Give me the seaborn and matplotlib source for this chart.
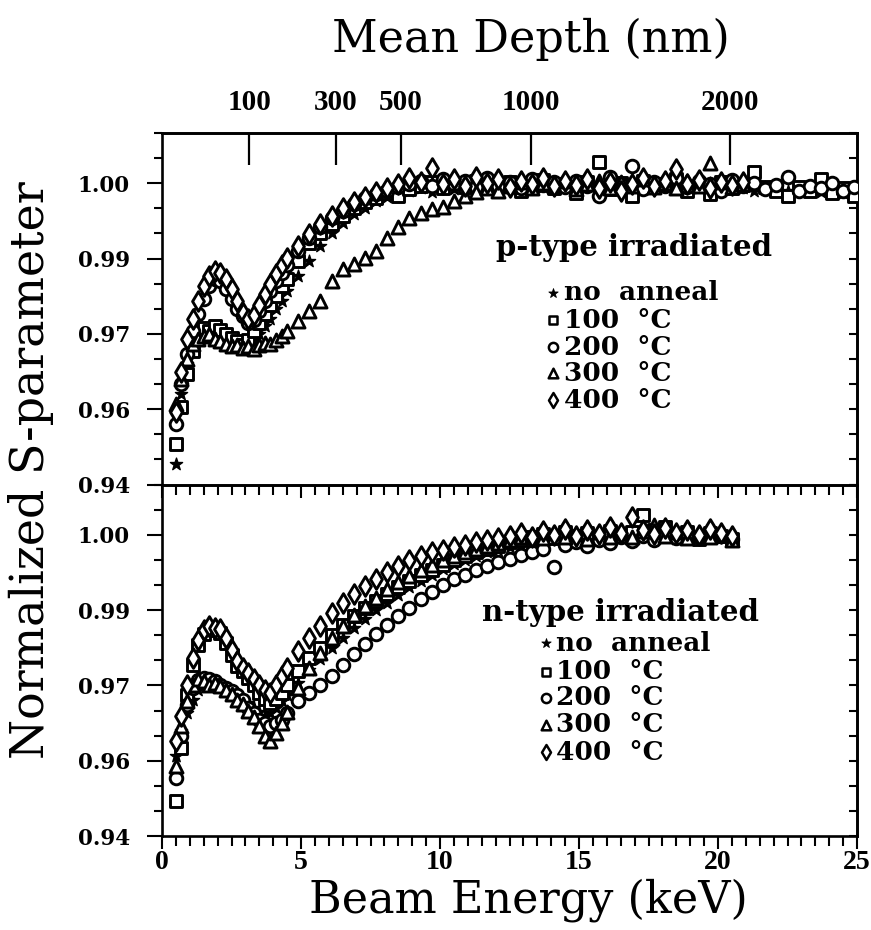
import numpy as np
import pandas as pd
import matplotlib
matplotlib.use("Agg")
import matplotlib.pyplot as plt
from matplotlib.ticker import MultipleLocator, NullLocator
import seaborn as sns

# ---------------------------------------------------------------- data
# Positron beam energies (keV)
energy_p = [0.5, 0.7, 0.9, 1.1, 1.3, 1.5, 1.7, 1.9, 2.1, 2.3, 2.5, 2.7, 2.9, 3.1, 3.3, 3.5, 3.7, 3.9, 4.1, 4.3, 4.5,
            4.9, 5.3, 5.7, 6.1, 6.5, 6.9, 7.3, 7.7, 8.1, 8.5,
            8.9, 9.3, 9.7, 10.1, 10.5, 10.9, 11.3, 11.7, 12.1, 12.5,
            12.9, 13.3, 13.7, 14.1, 14.5, 14.9, 15.3, 15.7, 16.1, 16.5,
            16.9, 17.3, 17.7, 18.1, 18.5, 18.9, 19.3, 19.7, 20.1, 20.5,
            20.9, 21.3, 21.7, 22.1, 22.5, 22.9, 23.3, 23.7, 24.1, 24.5, 24.9]
energy_n = [0.5, 0.7, 0.9, 1.1, 1.3, 1.5, 1.7, 1.9, 2.1, 2.3, 2.5, 2.7, 2.9, 3.1, 3.3, 3.5, 3.7, 3.9, 4.1, 4.3, 4.5,
            4.9, 5.3, 5.7, 6.1, 6.5, 6.9, 7.3, 7.7, 8.1, 8.5,
            8.9, 9.3, 9.7, 10.1, 10.5, 10.9, 11.3, 11.7, 12.1, 12.5,
            12.9, 13.3, 13.7, 14.1, 14.5, 14.9, 15.3, 15.7, 16.1, 16.5,
            16.9, 17.3, 17.7, 18.1, 18.5, 18.9, 19.3, 19.7, 20.1, 20.5]

treatments = ["no anneal", "100 °C", "200 °C", "300 °C", "400 °C"]

# p-type irradiated, normalized S-parameter
p_no_anneal = [0.9440, 0.9580, 0.9640, 0.9675, 0.9695, 0.9700, 0.9705, 0.9700, 0.9705, 0.9698, 0.9690, 0.9685, 0.9682, 0.9680, 0.9688, 0.9700, 0.9715, 0.9730, 0.9750, 0.9765, 0.9785,
               0.9815, 0.9845, 0.9875, 0.9900, 0.9920, 0.9938, 0.9950, 0.9965, 0.9972, 0.9978,
               0.9985, 0.9990, 0.9982, 0.9995, 0.9988, 0.9996, 0.9985, 1.0002, 0.9990, 0.9996,
               0.9985, 1.0000, 0.9992, 0.9988, 1.0004, 0.9990, 0.9995, 0.9986, 1.0001, 0.9992,
               0.9987, 0.9998, 0.9990, 1.0003, 0.9988, 0.9994, 0.9990, 1.0000, 0.9986, 0.9995,
               0.9990, 0.9985, 0.9993, 0.9988, 0.9984, 0.9990, 0.9986, 0.9982, 0.9988, 0.9980, 0.9978]
p_100 = [0.9480, 0.9555, 0.9620, 0.9665, 0.9700, 0.9712, 0.9705, 0.9715, 0.9708, 0.9700, 0.9692, 0.9685, 0.9678, 0.9688, 0.9705, 0.9722, 0.9740, 0.9758, 0.9775, 0.9795, 0.9810,
         0.9845, 0.9880, 0.9900, 0.9918, 0.9935, 0.9950, 0.9962, 0.9970, 0.9980, 0.9975,
         0.9988, 0.9995, 1.0002, 0.9990, 1.0000, 0.9992, 1.0005, 0.9990, 0.9998, 1.0003,
         0.9985, 0.9995, 1.0006, 0.9990, 0.9998, 0.9980, 1.0002, 1.0042, 0.9988, 1.0000,
         0.9975, 1.0005, 0.9992, 0.9998, 1.0008, 0.9985, 0.9995, 0.9978, 1.0003, 0.9990,
         0.9996, 1.0022, 0.9992, 0.9985, 0.9975, 0.9992, 0.9985, 1.0008, 0.9980, 0.9990, 0.9975]
p_200 = [0.9520, 0.9600, 0.9660, 0.9705, 0.9740, 0.9770, 0.9795, 0.9810, 0.9805, 0.9790, 0.9770, 0.9750, 0.9735, 0.9722, 0.9728, 0.9745, 0.9765, 0.9785, 0.9805, 0.9822, 0.9838,
         0.9865, 0.9890, 0.9912, 0.9930, 0.9945, 0.9958, 0.9970, 0.9978, 0.9985, 0.9992,
         0.9998, 1.0005, 0.9995, 1.0008, 0.9998, 1.0004, 0.9993, 1.0010, 0.9995, 1.0002,
         0.9990, 1.0008, 0.9996, 1.0003, 0.9992, 1.0005, 0.9994, 0.9975, 1.0012, 0.9998,
         1.0034, 0.9988, 1.0002, 0.9995, 1.0010, 0.9992, 1.0004, 0.9998, 0.9985, 1.0006,
         0.9994, 1.0000, 0.9988, 0.9996, 1.0012, 0.9985, 0.9995, 0.9990, 1.0000, 0.9985, 0.9992]
p_300 = [0.9560, 0.9610, 0.9650, 0.9680, 0.9690, 0.9695, 0.9700, 0.9690, 0.9685, 0.9680, 0.9675, 0.9678, 0.9672, 0.9676, 0.9670, 0.9678, 0.9682, 0.9680, 0.9688, 0.9695, 0.9705,
         0.9725, 0.9745, 0.9765, 0.9805, 0.9830, 0.9840, 0.9852, 0.9865, 0.9890, 0.9912,
         0.9930, 0.9940, 0.9948, 0.9952, 0.9965, 0.9975, 0.9982, 0.9990, 0.9985, 0.9995,
         1.0002, 0.9990, 1.0000, 0.9995, 1.0005, 0.9988, 0.9998, 1.0004, 0.9990, 1.0002,
         0.9995, 1.0008, 0.9992, 1.0000, 0.9990, 1.0005, 0.9995, 1.0040, 1.0002, 0.9992,
         0.9998]
p_400 = [0.9545, 0.9625, 0.9690, 0.9730, 0.9765, 0.9795, 0.9815, 0.9825, 0.9822, 0.9810, 0.9790, 0.9765, 0.9742, 0.9730, 0.9738, 0.9758, 0.9780, 0.9800, 0.9820, 0.9838, 0.9852,
         0.9875, 0.9898, 0.9918, 0.9935, 0.9950, 0.9962, 0.9972, 0.9982, 0.9990, 0.9998,
         1.0010, 1.0002, 1.0030, 0.9998, 1.0008, 0.9995, 1.0012, 1.0000, 1.0008, 0.9992,
         1.0005, 0.9998, 1.0010, 0.9994, 1.0004, 0.9996, 1.0008, 0.9990, 1.0002, 0.9985,
         0.9998, 1.0010, 0.9995, 1.0004, 1.0028, 0.9998, 1.0006, 0.9990, 1.0002, 0.9996,
         1.0003]

# n-type irradiated, normalized S-parameter
n_no_anneal = [0.9560, 0.9610, 0.9645, 0.9670, 0.9690, 0.9700, 0.9705, 0.9702, 0.9698, 0.9690, 0.9685, 0.9680, 0.9672, 0.9665, 0.9655, 0.9648, 0.9640, 0.9645, 0.9655, 0.9668, 0.9680,
               0.9705, 0.9730, 0.9752, 0.9775, 0.9795, 0.9815, 0.9832, 0.9850, 0.9865, 0.9880,
               0.9895, 0.9908, 0.9920, 0.9932, 0.9942, 0.9950, 0.9958, 0.9965, 0.9970, 0.9975,
               0.9980, 0.9985, 0.9988, 0.9992, 0.9985, 0.9995, 0.9990, 0.9998, 0.9992, 1.0000,
               0.9994, 1.0002, 0.9995, 1.0000, 0.9992, 1.0004, 0.9996, 1.0002, 0.9995, 0.9990]
n_100 = [0.9470, 0.9575, 0.9680, 0.9740, 0.9780, 0.9802, 0.9812, 0.9810, 0.9805, 0.9785, 0.9760, 0.9738, 0.9728, 0.9715, 0.9700, 0.9685, 0.9672, 0.9665, 0.9672, 0.9685, 0.9700,
         0.9728, 0.9755, 0.9775, 0.9800, 0.9820, 0.9838, 0.9855, 0.9868, 0.9882, 0.9895,
         0.9908, 0.9920, 0.9930, 0.9940, 0.9950, 0.9958, 0.9965, 0.9972, 0.9978, 0.9985,
         0.9990, 0.9996, 1.0002, 0.9994, 1.0006, 0.9998, 1.0004, 0.9995, 1.0008, 0.9998,
         1.0006, 1.0040, 1.0010, 1.0016, 0.9998, 1.0006, 0.9992, 1.0004, 0.9998, 0.9992]
n_200 = [0.9515, 0.9600, 0.9660, 0.9695, 0.9710, 0.9715, 0.9712, 0.9708, 0.9700, 0.9695, 0.9688, 0.9680, 0.9670, 0.9655, 0.9645, 0.9632, 0.9625, 0.9620, 0.9625, 0.9632, 0.9645,
         0.9668, 0.9685, 0.9700, 0.9718, 0.9740, 0.9762, 0.9782, 0.9802, 0.9820, 0.9838,
         0.9855, 0.9872, 0.9886, 0.9900, 0.9912, 0.9920, 0.9930, 0.9938, 0.9945, 0.9952,
         0.9960, 0.9966, 0.9972, 0.9935, 0.9980, 0.9985, 0.9978, 0.9990, 0.9984, 0.9995,
         0.9988, 0.9998, 0.9990, 1.0000, 0.9994, 1.0002, 0.9996, 1.0005, 0.9998, 0.9992]
n_300 = [0.9540, 0.9620, 0.9668, 0.9700, 0.9712, 0.9708, 0.9700, 0.9705, 0.9698, 0.9690, 0.9682, 0.9670, 0.9662, 0.9650, 0.9638, 0.9620, 0.9600, 0.9590, 0.9605, 0.9625, 0.9648,
         0.9695, 0.9735, 0.9765, 0.9795, 0.9818, 0.9840, 0.9858, 0.9875, 0.9892, 0.9905,
         0.9918, 0.9930, 0.9940, 0.9950, 0.9958, 0.9965, 0.9972, 0.9978, 0.9984, 0.9990,
         0.9995, 1.0000, 0.9994, 1.0004, 0.9996, 1.0002, 0.9992, 1.0006, 0.9996, 1.0004,
         0.9995, 1.0008, 1.0020, 0.9998, 1.0006, 0.9994, 1.0002, 0.9996, 1.0004, 0.9990]
n_400 = [0.9590, 0.9640, 0.9700, 0.9755, 0.9790, 0.9810, 0.9818, 0.9815, 0.9812, 0.9795, 0.9770, 0.9748, 0.9735, 0.9725, 0.9712, 0.9700, 0.9690, 0.9685, 0.9700, 0.9718, 0.9735,
         0.9768, 0.9795, 0.9818, 0.9845, 0.9865, 0.9882, 0.9898, 0.9912, 0.9925, 0.9938,
         0.9950, 0.9958, 0.9966, 0.9970, 0.9975, 0.9980, 0.9985, 0.9990, 0.9994, 0.9998,
         1.0004, 0.9996, 1.0008, 1.0000, 1.0012, 0.9998, 1.0010, 1.0002, 1.0015, 1.0004,
         1.0035, 1.0010, 1.0002, 1.0014, 1.0004, 1.0010, 1.0000, 1.0012, 1.0004, 0.9998]

p_series = [p_no_anneal, p_100, p_200, p_300, p_400]
n_series = [n_no_anneal, n_100, n_200, n_300, n_400]

# axis ticks
ytick_values = [0.94, 0.955, 0.97, 0.985, 1.00]
ytick_labels = ["0.94", "0.96", "0.97", "0.99", "1.00"]
xtick_values = [0, 5, 10, 15, 20, 25]
xtick_labels = ["0", "5", "10", "15", "20", "25"]
depth_ticks = [100, 300, 500, 1000, 2000]
depth_labels = ["100", "300", "500", "1000", "2000"]

# long-form table
rows = []
for panel, energies, series in (("p", energy_p, p_series), ("n", energy_n, n_series)):
    for name, values in zip(treatments, series):
        for e, s in zip(energies, values):
            rows.append({"panel": panel, "treatment": name, "E": e, "S": s})
df = pd.DataFrame(rows)

# ---------------------------------------------------------------- style
sns.set_style("ticks")
plt.rcParams["font.family"] = ["DejaVu Serif", "DejaVu Sans"]
plt.rcParams["axes.linewidth"] = 1.9
plt.rcParams["text.color"] = "black"
plt.rcParams["axes.labelcolor"] = "black"
plt.rcParams["xtick.color"] = "black"
plt.rcParams["ytick.color"] = "black"
plt.rcParams["axes.edgecolor"] = "black"

marker_styles = {
    "no anneal": dict(marker="*", s=85, facecolor="black", edgecolor="black", linewidth=1.0),
    "100 °C": dict(marker="s", s=72, facecolor="white", edgecolor="black", linewidth=2.1),
    "200 °C": dict(marker="o", s=82, facecolor="white", edgecolor="black", linewidth=2.1),
    "300 °C": dict(marker="^", s=88, facecolor="white", edgecolor="black", linewidth=2.1),
    "400 °C": dict(marker="d", s=100, facecolor="white", edgecolor="black", linewidth=2.1),
}
legend_styles = {
    "no anneal": dict(marker="*", s=50, facecolor="black", edgecolor="black", linewidth=0.6),
    "100 °C": dict(marker="s", s=40, facecolor="white", edgecolor="black", linewidth=1.8),
    "200 °C": dict(marker="o", s=44, facecolor="white", edgecolor="black", linewidth=1.8),
    "300 °C": dict(marker="^", s=48, facecolor="white", edgecolor="black", linewidth=1.8),
    "400 °C": dict(marker="d", s=58, facecolor="white", edgecolor="black", linewidth=1.8),
}


def energy_to_depth(e):
    return 16.0 * np.power(np.clip(e, 0, None), 1.6)


def depth_to_energy(z):
    return np.power(np.clip(z, 0, None) / 16.0, 1 / 1.6)


fig, (ax_p, ax_n) = plt.subplots(2, 1, figsize=(8.71, 9.30), dpi=100, sharex=True)
fig.subplots_adjust(left=0.186, right=0.984, bottom=0.101, top=0.857, hspace=0)
ax_p.set_zorder(2)
ax_n.set_zorder(1)


def style_axes(ax, show_xlabels):
    ax.set_facecolor("none")
    ax.set_xlim(0, 25)
    ax.set_ylim(0.94, 1.01)
    ax.set_xlabel("")
    ax.set_ylabel("")
    ax.set_yticks(ytick_values, labels=ytick_labels, fontsize=15.5, fontweight="bold",
                  family="DejaVu Serif", color="black")
    ax.yaxis.set_minor_locator(MultipleLocator(0.005))
    ax.set_xticks(xtick_values, labels=xtick_labels, fontsize=20, fontweight="bold",
                  family="Liberation Serif", color="black")
    ax.xaxis.set_minor_locator(MultipleLocator(0.5))
    ax.tick_params(axis="both", which="both", direction="out", top=False, right=False,
                   width=1.5, color="black", labelcolor="black")
    ax.tick_params(axis="y", which="major", length=11, pad=12)
    ax.tick_params(axis="y", which="minor", length=6)
    ax.tick_params(axis="x", which="major", length=9, pad=1)
    ax.tick_params(axis="x", which="minor", length=7)
    ax.tick_params(axis="x", labelbottom=show_xlabels)
    for sp in ax.spines.values():
        sp.set_visible(True)
        sp.set_linewidth(1.9)
        sp.set_color("black")
    right = ax.secondary_yaxis("right")
    right.yaxis.set_major_locator(MultipleLocator(0.005))
    right.yaxis.set_minor_locator(NullLocator())
    right.tick_params(direction="in", length=6, width=1.5, labelright=False, color="black")
    right.spines["right"].set_linewidth(1.9)
    right.spines["right"].set_color("black")


def draw_panel(ax, panel, title, title_xy, key_x, text_x, row_y):
    sub = df[df["panel"] == panel]
    for z, name in enumerate(treatments):
        part = sub[sub["treatment"] == name]
        sns.scatterplot(data=part, x="E", y="S", ax=ax, legend=False, color="black",
                        zorder=3 + z, **marker_styles[name])
    ax.text(title_xy[0], title_xy[1], title, transform=ax.transAxes, fontsize=21,
            fontweight="bold", va="center", ha="left", color="black")
    labels = ["no  anneal", "100  °C", "200  °C", "300  °C", "400  °C"]
    for name, lab, y in zip(treatments, labels, row_y):
        ax.scatter([key_x], [y], transform=ax.transAxes, clip_on=False, zorder=10,
                   **legend_styles[name])
        ax.text(text_x, y, lab, transform=ax.transAxes, fontsize=19, fontweight="bold",
                va="center", ha="left", color="black")


draw_panel(ax_p, "p", "p-type irradiated", (0.481, 0.673), 0.563, 0.578,
           [0.545, 0.468, 0.391, 0.317, 0.240])
draw_panel(ax_n, "n", "n-type irradiated", (0.460, 0.637), 0.552, 0.567,
           [0.549, 0.467, 0.393, 0.316, 0.239])

style_axes(ax_p, False)
style_axes(ax_n, True)

# mean implantation depth on the top edge
top = ax_p.secondary_xaxis("top", functions=(energy_to_depth, depth_to_energy))
top.set_xticks(depth_ticks, labels=depth_labels, fontsize=21, fontweight="bold",
               family="Liberation Serif", color="black")
top.xaxis.set_minor_locator(NullLocator())
top.tick_params(direction="in", length=23, width=1.6, pad=12, color="black")
top.spines["top"].set_linewidth(1.9)
top.spines["top"].set_color("black")

fig.text(0.61, 0.958, "Mean Depth (nm)", ha="center", va="center", fontsize=32,
         color="black")
fig.text(0.607, 0.032, "Beam Energy (keV)", ha="center", va="center", fontsize=32,
         color="black")
fig.text(0.036, 0.495, "Normalized S-parameter", ha="center", va="center", fontsize=33,
         rotation=90, color="black")

fig.savefig("out.png", dpi=100, facecolor="white")
